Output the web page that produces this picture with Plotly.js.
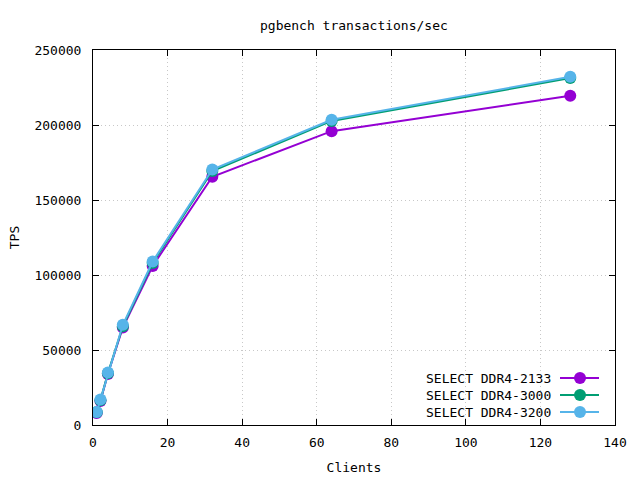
<!DOCTYPE html>
<html><head><meta charset="utf-8">
<script src="https://cdn.plot.ly/plotly-3.0.1.min.js"></script>
<style>body{margin:0;background:#fff}#c{width:640px;height:480px}</style>
</head><body><div id="c"></div>
<script>
const clients = [1, 2, 4, 8, 16, 32, 64, 128];
const ddr2133 = [8000, 16000, 34000, 65000, 106000, 165500, 195900, 219500];
const ddr3000 = [8500, 16500, 34500, 65800, 108000, 169300, 202700, 231300];
const ddr3200 = [8700, 17000, 35000, 66800, 109000, 170300, 203500, 232100];
const names = ["SELECT DDR4-2133", "SELECT DDR4-3000", "SELECT DDR4-3200"];
const colors = ["#9400d3", "#009e73", "#56b4e9"];
const series = [ddr2133, ddr3000, ddr3200];
const F = "DejaVu Sans Mono, monospace";
const FS = 13;

const traces = series.map((ys, i) => ({
  x: clients, y: ys, type: "scatter", mode: "lines+markers", name: names[i],
  line: {color: colors[i], width: 2}, marker: {color: colors[i], size: 12},
  showlegend: false
}));

// custom legend (text right, sample on the right), in paper coordinates
const L = 93, W = 522, H = 375; // plot area position/size in px
const annotations = [], shapes = [];
names.forEach((n, i) => {
  const ypx = 47 - i * 17;           // px above bottom of plot
  const yp = ypx / H;
  annotations.push({xref: "paper", yref: "paper", x: (553 - L) / W, y: yp, xanchor: "right", yanchor: "middle",
    text: n, showarrow: false, font: {family: F, size: FS, color: "#000"}, xshift: 0});
  shapes.push({type: "line", xref: "paper", yref: "paper", x0: (560 - L) / W, x1: (599 - L) / W, y0: yp, y1: yp,
    line: {color: colors[i], width: 2}});
  const cx = (580 - L) / W;
  shapes.push({type: "circle", xref: "paper", yref: "paper", x0: cx - 6 / W, x1: cx + 6 / W,
    y0: yp - 6 / H, y1: yp + 6 / H, fillcolor: colors[i], line: {width: 0}});
});

const axisCommon = {
  showline: true, linecolor: "#000", linewidth: 1, mirror: "ticks", ticks: "inside", ticklen: 6,
  tickcolor: "#000", showgrid: true, gridcolor: "#c8c8c8", griddash: "1px,3px", gridwidth: 1,
  zeroline: false, tickfont: {family: F, size: FS, color: "#000"}
};

Plotly.newPlot("c", traces, {
  width: 640, height: 480,
  margin: {l: L, r: 640 - L - W, t: 50, b: 55},
  paper_bgcolor: "#fff", plot_bgcolor: "#fff",
  title: {text: "pgbench transactions/sec", font: {family: F, size: FS, color: "#000"}, x: 0.553, xanchor: "center", y: 0.948, yanchor: "middle"},
  xaxis: Object.assign({}, axisCommon, {range: [0, 140], dtick: 20, ticklabelstandoff: 5,
    title: {text: "Clients", font: {family: F, size: FS, color: "#000"}, standoff: 14}}),
  yaxis: Object.assign({}, axisCommon, {range: [0, 250000], dtick: 50000, tickformat: "d", ticklabelstandoff: 8,
    title: {text: "TPS", font: {family: F, size: FS, color: "#000"}, standoff: 11}}),
  annotations: annotations, shapes: shapes
}, {staticPlot: true});
</script></body></html>
